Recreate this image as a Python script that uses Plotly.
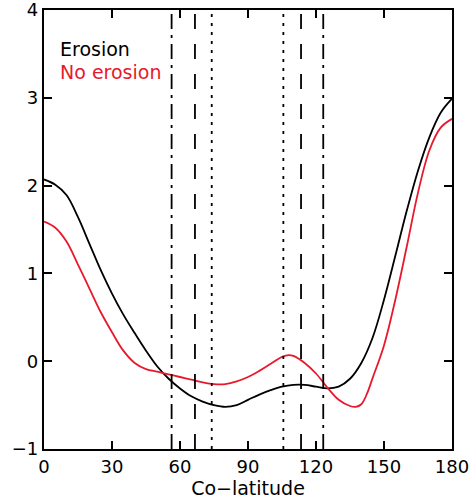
import plotly.graph_objects as go

# Co-latitude sample points (degrees)
colat = [0, 5, 10, 15, 20, 25, 30, 35, 40, 45, 50, 55, 60, 65, 70, 75, 80, 85, 90,
         95, 100, 105, 110, 115, 120, 125, 130, 135, 140, 145, 150, 155, 160, 165,
         170, 175, 180]

erosion = [2.07, 2.01, 1.89, 1.64, 1.34, 1.04, 0.77, 0.53, 0.32, 0.12, -0.06, -0.20,
           -0.31, -0.40, -0.46, -0.50, -0.52, -0.50, -0.44, -0.38, -0.33, -0.29, -0.27,
           -0.27, -0.29, -0.31, -0.29, -0.20, -0.02, 0.27, 0.70, 1.20, 1.71, 2.17,
           2.55, 2.83, 2.99]

colat_ne = [0, 5, 10, 15, 20, 25, 30, 35, 40, 45, 50, 55, 60, 65, 70, 75, 80, 85, 90,
            95, 100, 105, 108, 110, 115, 120, 125, 130, 135, 137.5, 140, 142.5, 145,
            150, 155, 160, 165, 170, 175, 180]
no_erosion = [1.59, 1.52, 1.36, 1.10, 0.83, 0.56, 0.33, 0.12, -0.02, -0.09, -0.12,
              -0.15, -0.18, -0.21, -0.24, -0.26, -0.26, -0.23, -0.18, -0.11, -0.03,
              0.05, 0.07, 0.06, -0.02, -0.14, -0.30, -0.44, -0.51, -0.52, -0.49, -0.37,
              -0.19, 0.18, 0.70, 1.30, 1.92, 2.40, 2.66, 2.76]

vlines_x = [56.3, 66.6, 74.0, 105.6, 113.4, 123.2]
vlines_style = ["dashdot", "dash", "dot", "dot", "dash", "dashdot"]

x_ticks = [0, 30, 60, 90, 120, 150, 180]
y_ticks = [-1, 0, 1, 2, 3, 4]

RED = "#e8192c"
dash_map = {"dashdot": "15px,6px,3px,6px", "dash": "15px,15px", "dot": "3px,6px"}

fig = go.Figure()
fig.add_trace(go.Scatter(x=colat, y=erosion, mode="lines",
                         line=dict(color="black", width=1.8, shape="spline", smoothing=1.0),
                         showlegend=False))
fig.add_trace(go.Scatter(x=colat_ne, y=no_erosion, mode="lines",
                         line=dict(color=RED, width=1.8, shape="spline", smoothing=1.0),
                         showlegend=False))

for xv, st in zip(vlines_x, vlines_style):
    fig.add_shape(type="line", x0=xv, x1=xv, y0=-1, y1=4, xref="x", yref="y",
                  line=dict(color="black", width=1.8, dash=dash_map[st]))

fig.add_annotation(text="Erosion", x=0.034, y=0.911, xref="paper", yref="paper",
                   xanchor="left", yanchor="middle", showarrow=False,
                   font=dict(color="black", size=19, family="DejaVu Sans"))
fig.add_annotation(text="No erosion", x=0.034, y=0.859, xref="paper", yref="paper",
                   xanchor="left", yanchor="middle", showarrow=False,
                   font=dict(color=RED, size=19, family="DejaVu Sans"))

axis_common = dict(showgrid=False, zeroline=False, showline=True, linecolor="black",
                   linewidth=2.2, mirror="ticks", ticks="inside", ticklen=8,
                   tickwidth=1.5, tickcolor="black", automargin=False,
                   ticklabeloverflow="allow",
                   tickfont=dict(size=18, color="black", family="DejaVu Sans"))

fig.update_xaxes(range=[0, 180], tickvals=x_ticks,
                 ticktext=[str(v) for v in x_ticks],
                 title=dict(text="Co\u2212latitude", standoff=4,
                            font=dict(size=19, color="black", family="DejaVu Sans")),
                 **axis_common)
fig.update_yaxes(range=[-1, 4], tickvals=y_ticks,
                 ticktext=[("\u2212" + str(-v)) if v < 0 else str(v) for v in y_ticks],
                 **axis_common)

fig.update_layout(width=471, height=502, margin=dict(l=44, r=19, t=10, b=53),
                  paper_bgcolor="white", plot_bgcolor="white",
                  font=dict(family="DejaVu Sans", color="black"))

fig.write_html("out.html")
